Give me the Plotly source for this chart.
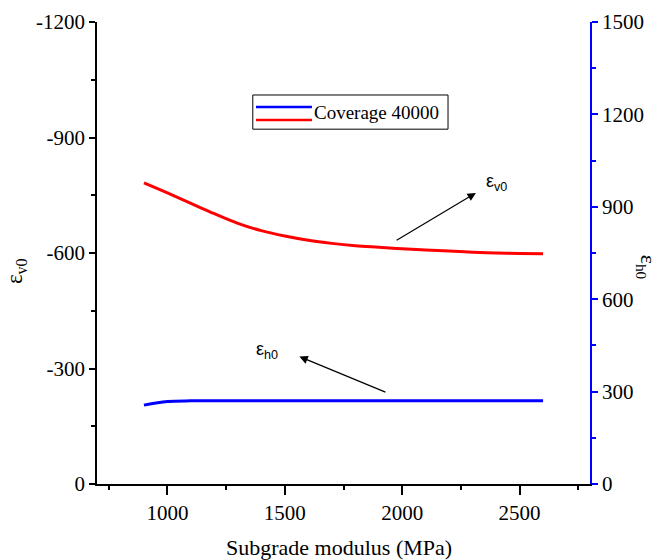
import plotly.graph_objects as go

# ---- data ----
modulus = [900, 1000, 1100, 1200, 1300, 1400, 1500, 1600, 1700, 1800,
           1900, 2000, 2100, 2200, 2300, 2400, 2500, 2600]
eps_v0 = [-782, -756, -729, -702, -677, -658, -644, -633, -625, -619,
          -615, -611, -608, -605, -602, -600, -599, -598]
eps_h0 = [256, 268, 270, 270, 270, 270, 270, 270, 270, 270,
          270, 270, 270, 270, 270, 270, 270, 270]

x_range = [700, 2800]
x_ticks = [1000, 1500, 2000, 2500]
yl_ticks = [0, -300, -600, -900, -1200]
yl_text = ["0", "-300", "-600", "-900", "-1200"]
yr_ticks = [0, 300, 600, 900, 1200, 1500]
legend_label = "Coverage 40000"
x_title = "Subgrade modulus (MPa)"

FONT = "Liberation Serif, Times New Roman, DejaVu Serif, serif"
SANS = "Liberation Sans, Arial, sans-serif"

fig = go.Figure()
fig.add_trace(go.Scatter(x=modulus, y=eps_v0, mode="lines", line=dict(color="red", width=3, shape="spline"),
                         xaxis="x", yaxis="y", showlegend=False))
fig.add_trace(go.Scatter(x=modulus, y=eps_h0, mode="lines", line=dict(color="blue", width=3, shape="spline"),
                         xaxis="x", yaxis="y2", showlegend=False))

fig.update_layout(
    width=663, height=560,
    margin=dict(l=97, r=73, t=22, b=76, autoexpand=False),
    paper_bgcolor="white", plot_bgcolor="white",
    font=dict(family=FONT, size=20, color="black"),
    showlegend=False,
    xaxis=dict(range=x_range, tickvals=x_ticks, ticks="outside", ticklen=9, tickwidth=1.5,
               tickcolor="black", showline=True, linecolor="black", linewidth=1.5,
               showgrid=False, zeroline=False, automargin=False,
               minor=dict(dtick=250, tick0=750, ticks="outside", ticklen=4, tickwidth=1.5, tickcolor="black"),
               tickfont=dict(family=FONT, size=21)),
    xaxis2=dict(range=x_range, overlaying="x", side="top", anchor="y", matches="x",
                tickvals=x_ticks, ticks="inside", ticklen=9, tickwidth=1.5, tickcolor="black",
                showline=True, linecolor="black", linewidth=1.5, showticklabels=False,
                showgrid=False, zeroline=False, automargin=False,
                minor=dict(dtick=250, tick0=750, ticks="inside", ticklen=4, tickwidth=1.5, tickcolor="black")),
    yaxis=dict(range=[0, -1200], tickvals=yl_ticks, ticktext=yl_text, ticks="outside", ticklen=6,
               tickwidth=1.5, tickcolor="black", showline=True, linecolor="black", linewidth=1.5,
               showgrid=False, zeroline=False, automargin=False,
               minor=dict(dtick=150, ticks="outside", ticklen=4, tickwidth=1.5, tickcolor="black"),
               tickfont=dict(family=FONT, size=21)),
    yaxis2=dict(range=[0, 1500], overlaying="y", side="right", anchor="x", tickvals=yr_ticks,
                ticks="outside", ticklen=6, tickwidth=1.5, tickcolor="blue", showline=True,
                linecolor="blue", linewidth=1.5, showgrid=False, zeroline=False, automargin=False,
                minor=dict(dtick=150, ticks="outside", ticklen=4, tickwidth=1.5, tickcolor="blue"),
                tickfont=dict(family=FONT, size=21, color="black")),
)

# axis titles
fig.add_annotation(text=x_title, xref="paper", yref="paper", x=0.49, y=-0.138,
                   xanchor="center", yanchor="middle", showarrow=False, font=dict(family=FONT, size=22))
fig.add_annotation(text="ε<sub>v0</sub>", xref="paper", yref="paper", x=-0.163, y=0.46,
                   xanchor="center", yanchor="middle",
                   textangle=-90, showarrow=False, font=dict(family=FONT, size=23))
fig.add_annotation(text="ε<sub>h0</sub>", xref="paper", yref="paper", x=1.116, y=0.47,
                   xanchor="center", yanchor="middle",
                   textangle=90, showarrow=False, font=dict(family=FONT, size=22))

# pointer arrows and labels
fig.add_annotation(x=2314, y=-756, ax=1970, ay=-631, xref="x", yref="y", axref="x", ayref="y",
                   text="", showarrow=True, arrowhead=2, arrowsize=1.4, arrowwidth=1.2, arrowcolor="black")
fig.add_annotation(x=2400, y=-782, xref="x", yref="y", text="ε<sub>v0</sub>", showarrow=False,
                   font=dict(size=18, family=SANS))
fig.add_annotation(x=1562, y=-331, ax=1935, ay=-237, xref="x", yref="y", axref="x", ayref="y",
                   text="", showarrow=True, arrowhead=2, arrowsize=1.4, arrowwidth=1.2, arrowcolor="black")
fig.add_annotation(x=1425, y=-348, xref="x", yref="y", text="ε<sub>h0</sub>", showarrow=False,
                   font=dict(size=18, family=SANS))

# legend box (drawn manually: both lines share one label)
fig.add_shape(type="rect", xref="paper", yref="paper", x0=0.316, x1=0.712, y0=0.768, y1=0.842,
              line=dict(color="black", width=1), fillcolor="white", layer="above")
fig.add_shape(type="line", xref="paper", yref="paper", x0=0.3225, x1=0.436, y0=0.816, y1=0.816,
              line=dict(color="blue", width=2.5))
fig.add_shape(type="line", xref="paper", yref="paper", x0=0.3225, x1=0.436, y0=0.788, y1=0.788,
              line=dict(color="red", width=2.5))
fig.add_annotation(text=legend_label, xref="paper", yref="paper", x=0.437, y=0.805, xanchor="left",
                   yanchor="middle", showarrow=False, font=dict(family=FONT, size=19))

fig.write_html("out.html")
